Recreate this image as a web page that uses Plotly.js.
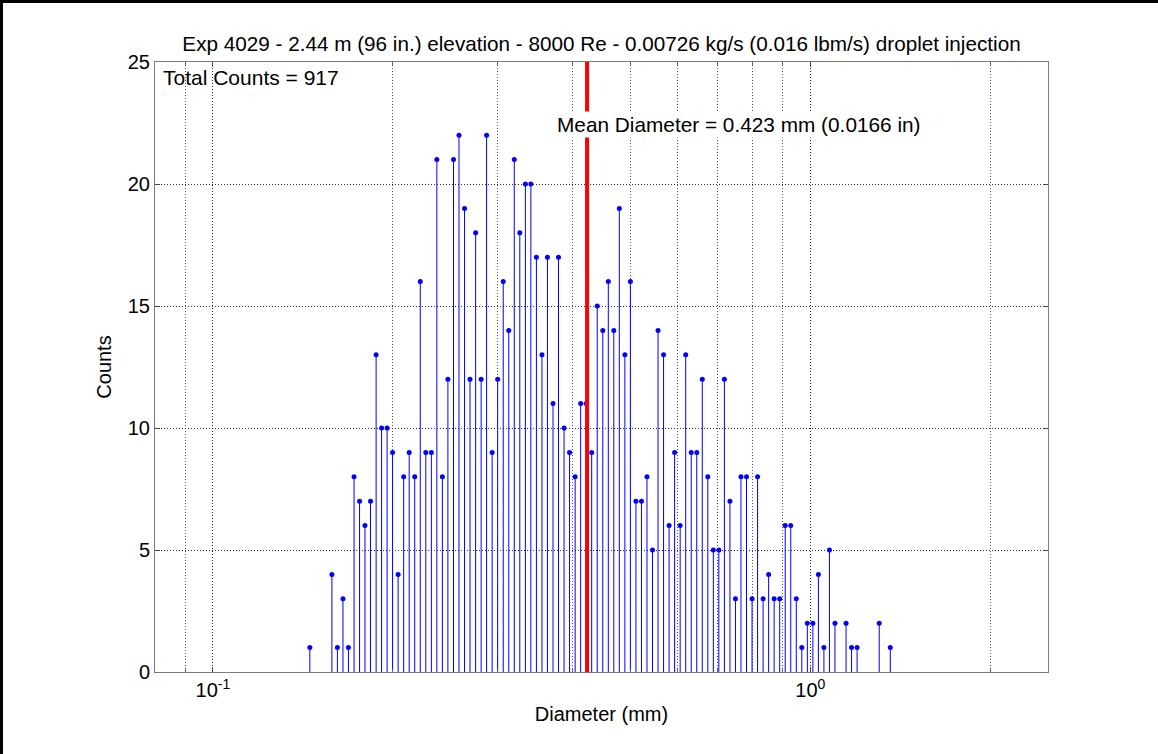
<!DOCTYPE html>
<html>
<head>
<meta charset="utf-8">
<script src="https://cdn.plot.ly/plotly-3.0.1.min.js"></script>
<style>
  html, body { margin: 0; padding: 0; background: #fff; }
  #frame { width: 1158px; height: 754px; box-sizing: border-box; border-left: 3px solid #000; border-top: 3px solid #000; background: #fff; }
  #chart { width: 1155px; height: 751px; }
</style>
</head>
<body>
<div id="frame"><div id="chart"></div></div>
<script>
// Bin diameters (mm) (only bins with non-zero counts)
const diameters = [
  0.1453, 0.1582, 0.1616, 0.1651, 0.1686, 0.1723, 0.1760,
  0.1797, 0.1836, 0.1876, 0.1916, 0.1957, 0.1999, 0.2042, 0.2086, 0.2131, 0.2177,
  0.2224, 0.2272, 0.2321, 0.2371, 0.2422, 0.2474, 0.2528, 0.2582, 0.2638, 0.2694,
  0.2753, 0.2812, 0.2872, 0.2934, 0.2997, 0.3062, 0.3128, 0.3195, 0.3264, 0.3335,
  0.3406, 0.3480, 0.3555, 0.3631, 0.3710, 0.3789, 0.3871, 0.3954, 0.4040, 0.4127,
  0.4215, 0.4306, 0.4399, 0.4494, 0.4591, 0.4689, 0.4790, 0.4894, 0.4999, 0.5107,
  0.5217, 0.5329, 0.5444, 0.5561, 0.5681, 0.5803, 0.5928, 0.6056, 0.6187, 0.6320,
  0.6456, 0.6595, 0.6737, 0.6882, 0.7030, 0.7182, 0.7337, 0.7495, 0.7656, 0.7821,
  0.7990, 0.8162, 0.8337, 0.8517, 0.8700, 0.8888, 0.9079, 0.9275, 0.9475, 0.9679,
  0.9887, 1.0100, 1.0318, 1.0540, 1.0767, 1.0999, 1.1478, 1.1725, 1.1978,
  1.3044, 1.3612
];
const counts = [
  1, 4, 1, 3, 1, 8, 7,
  6, 7, 13, 10, 10, 9, 4, 8, 9, 8,
  16, 9, 9, 21, 8, 12, 21, 22, 19, 12,
  18, 12, 22, 9, 12, 16, 14, 21, 18, 20,
  20, 17, 13, 17, 11, 17, 10, 9, 8, 11,
  11, 9, 15, 14, 16, 14, 19, 13, 16, 7,
  7, 8, 5, 14, 13, 6, 9, 6, 13, 9,
  9, 12, 8, 5, 5, 12, 7, 3, 8, 8,
  3, 8, 3, 4, 3, 3, 6, 6, 3, 1,
  2, 2, 4, 1, 5, 2, 2, 1, 1,
  2, 1
];
const totalCounts = 917;
const meanDiameter = 0.423;      // mm
const meanDiameterIn = 0.0166;   // in
const yMax = 25;

const titleText = 'Exp 4029 - 2.44 m (96 in.) elevation - 8000 Re - 0.00726 kg/s (0.016 lbm/s) droplet injection';
const xMajorVals = [0.1, 1];
const xMajorText = ['10<sup>-1</sup>', '10<sup>0</sup>'];
const xMinorVals = [0.09, 0.2, 0.3, 0.4, 0.5, 0.6, 0.7, 0.8, 0.9, 2];
const yTickVals = [0, 5, 10, 15, 20, 25];

// Build stems
const stemX = [], stemY = [];
for (let i = 0; i < diameters.length; i++) {
  stemX.push(diameters[i], diameters[i], null);
  stemY.push(0, counts[i], null);
}

const FONT = 'Liberation Sans, Arial, Helvetica, sans-serif';
const FS = 20;
const f = (s) => ({ family: FONT, size: s || FS, color: '#000' });

const traces = [
  { type: 'scatter', mode: 'lines', x: stemX, y: stemY,
    line: { color: '#0000ff', width: 1 }, hoverinfo: 'skip', showlegend: false },
  { type: 'scatter', mode: 'markers', x: diameters, y: counts,
    marker: { color: '#0000ff', size: 5, symbol: 'circle' }, showlegend: false },
  { type: 'scatter', mode: 'lines', x: [meanDiameter, meanDiameter], y: [0, yMax],
    line: { color: '#ff0000', width: 4 }, showlegend: false }
];

const GRIDDASH = '1px,2px';

const layout = {
  width: 1155, height: 751,
  margin: { l: 152, r: 110, t: 59, b: 82, pad: 0 },
  paper_bgcolor: '#ffffff', plot_bgcolor: '#ffffff',
  font: f(),
  showlegend: false,
  title: { text: titleText, font: f(20.7),
           xref: 'paper', x: 0.5, xanchor: 'center', yref: 'container', y: 1 - 41/751, yanchor: 'middle' },
  xaxis: {
    type: 'log', range: [Math.log10(0.08), Math.log10(2.5)],
    tickmode: 'array', tickvals: xMajorVals, ticktext: xMajorText,
    ticks: 'inside', ticklen: 5, tickcolor: '#444', tickwidth: 1,
    showline: true, linecolor: '#7a7a7a', linewidth: 1, mirror: 'ticks',
    showgrid: true, gridcolor: '#222', griddash: GRIDDASH, gridwidth: 1,
    minor: { tickmode: 'array', tickvals: xMinorVals, ticks: 'inside', ticklen: 3, tickcolor: '#666',
             showgrid: true, gridcolor: '#555', griddash: GRIDDASH, gridwidth: 1 },
    zeroline: false, tickfont: f(),
    title: { text: 'Diameter (mm)', font: f(), standoff: 6 },
    automargin: false
  },
  yaxis: {
    range: [0, yMax], tickmode: 'array', tickvals: yTickVals,
    ticks: 'inside', ticklen: 5, tickcolor: '#444', tickwidth: 1,
    showline: true, linecolor: '#7a7a7a', linewidth: 1, mirror: 'ticks',
    showgrid: true, gridcolor: '#333', griddash: GRIDDASH, gridwidth: 1,
    zeroline: false, tickfont: f(),
    title: { text: 'Counts', font: f(), standoff: 10 },
    automargin: false
  },
  annotations: [
    { xref: 'paper', yref: 'paper', x: 0.007, y: 0.9738, xanchor: 'left', yanchor: 'middle',
      text: 'Total Counts = ' + totalCounts, showarrow: false, borderpad: 1, font: f(21) },
    { xref: 'paper', yref: 'paper', x: 0.448, y: 0.898, xanchor: 'left', yanchor: 'middle',
      text: 'Mean Diameter = ' + meanDiameter.toFixed(3) + ' mm (' + meanDiameterIn + ' in)',
      showarrow: false, bgcolor: '#ffffff', borderpad: 1, font: f(20.8) }
  ]
};

Plotly.newPlot('chart', traces, layout, { displayModeBar: false, staticPlot: true });
</script>
</body>
</html>
